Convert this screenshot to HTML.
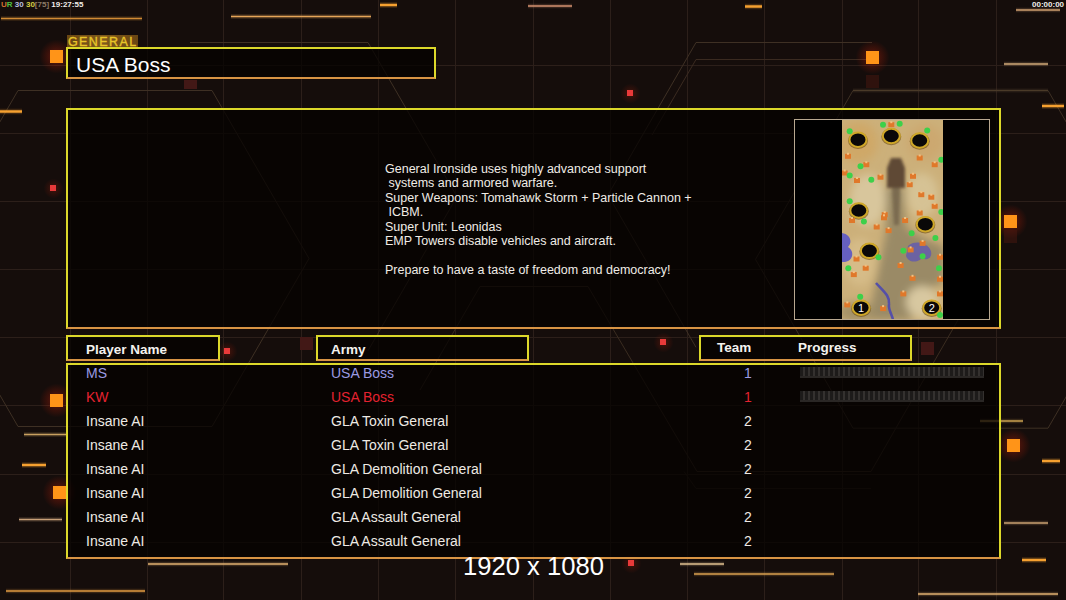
<!DOCTYPE html>
<html><head><meta charset="utf-8">
<style>
*{margin:0;padding:0;box-sizing:border-box}
html,body{width:1066px;height:600px;overflow:hidden;background:#150d0b;font-family:"Liberation Sans",sans-serif}
.abs{position:absolute}
.box{position:absolute;background:rgba(4,1,0,0.74);border:2px solid #dcd82a;border-bottom-color:#d89444}
.t{position:absolute;white-space:pre;color:#f0ece6;line-height:1}
.hd{position:absolute;white-space:pre;color:#f4f2ee;font-weight:bold;font-size:13.5px;line-height:1}
.row{position:absolute;white-space:pre;font-size:14px;line-height:1;color:#eeeae4}
.pb{width:184px;height:11px;background:linear-gradient(#0000 0 9px,#2a2725 9px),repeating-linear-gradient(90deg,#1d1b1a 0 3.5px,#34312f 3.5px 5px)}
</style></head><body>
<svg class="abs" style="left:0;top:0" width="1066" height="600"><defs><radialGradient id="gl"><stop offset="0" stop-color="#ff3010" stop-opacity="0.35"/><stop offset="1" stop-color="#ff2000" stop-opacity="0"/></radialGradient></defs><line x1="70.5" y1="0" x2="70.5" y2="600" stroke="#2c1f1a" stroke-width="1"/><line x1="147.5" y1="0" x2="147.5" y2="600" stroke="#2c1f1a" stroke-width="1"/><line x1="223.5" y1="0" x2="223.5" y2="600" stroke="#2c1f1a" stroke-width="1"/><line x1="301.5" y1="0" x2="301.5" y2="600" stroke="#2c1f1a" stroke-width="1"/><line x1="378.5" y1="0" x2="378.5" y2="600" stroke="#2c1f1a" stroke-width="1"/><line x1="455.5" y1="0" x2="455.5" y2="600" stroke="#2c1f1a" stroke-width="1"/><line x1="533.5" y1="0" x2="533.5" y2="600" stroke="#2c1f1a" stroke-width="1"/><line x1="610.5" y1="0" x2="610.5" y2="600" stroke="#2c1f1a" stroke-width="1"/><line x1="687.5" y1="0" x2="687.5" y2="600" stroke="#2c1f1a" stroke-width="1"/><line x1="764.5" y1="0" x2="764.5" y2="600" stroke="#2c1f1a" stroke-width="1"/><line x1="842.5" y1="0" x2="842.5" y2="600" stroke="#2c1f1a" stroke-width="1"/><line x1="918.5" y1="0" x2="918.5" y2="600" stroke="#2c1f1a" stroke-width="1"/><line x1="996.5" y1="0" x2="996.5" y2="600" stroke="#2c1f1a" stroke-width="1"/><line x1="0" y1="65.5" x2="1066" y2="65.5" stroke="#2c1f1a" stroke-width="1"/><line x1="0" y1="133.5" x2="1066" y2="133.5" stroke="#2c1f1a" stroke-width="1"/><line x1="0" y1="201.5" x2="1066" y2="201.5" stroke="#2c1f1a" stroke-width="1"/><line x1="0" y1="269.5" x2="1066" y2="269.5" stroke="#2c1f1a" stroke-width="1"/><line x1="0" y1="337.5" x2="1066" y2="337.5" stroke="#2c1f1a" stroke-width="1"/><line x1="0" y1="405.5" x2="1066" y2="405.5" stroke="#2c1f1a" stroke-width="1"/><line x1="0" y1="474.5" x2="1066" y2="474.5" stroke="#2c1f1a" stroke-width="1"/><line x1="0" y1="542.5" x2="1066" y2="542.5" stroke="#2c1f1a" stroke-width="1"/><polygon points="18.0,90.5 212.0,90.5 309.0,258.5 212.0,426.5 18.0,426.5 -79.0,258.5" fill="none" stroke="#3e3024" stroke-width="1"/><polyline points="190,42.5 368,42.5 457,196.6 368,350.7" fill="none" stroke="#3e3024" stroke-width="1"/><polyline points="872,42.5 696,42.5 608,194.9 696,347.3" fill="none" stroke="#3e3024" stroke-width="1"/><polygon points="853.0,90.5 1048.0,90.5 1145.5,259.4 1048.0,428.2 853.0,428.2 755.5,259.4" fill="none" stroke="#3e3024" stroke-width="1"/><polyline points="420,390 480,286.5 588,286.5 697,471.5 871,471.5 958,320" fill="none" stroke="#3a2c20" stroke-width="1"/><polyline points="684,471.5 696,488.5 871,488.5" fill="none" stroke="#2c2118" stroke-width="1"/><polyline points="866,59.5 696,59.5 652,135" fill="none" stroke="#3a2a20" stroke-width="1"/><line x1="1" y1="18.5" x2="142" y2="18.5" stroke="#d08a34" stroke-width="4.5" opacity="0.18"/><line x1="1" y1="18.5" x2="142" y2="18.5" stroke="#d08a34" stroke-width="1.5"/><line x1="231" y1="16.5" x2="371" y2="16.5" stroke="#e4a458" stroke-width="4.5" opacity="0.18"/><line x1="231" y1="16.5" x2="371" y2="16.5" stroke="#e4a458" stroke-width="1.5"/><line x1="528" y1="6" x2="572" y2="6" stroke="#d49270" stroke-width="4.5" opacity="0.18"/><line x1="528" y1="6" x2="572" y2="6" stroke="#d49270" stroke-width="1.5"/><line x1="1016" y1="10" x2="1060" y2="10" stroke="#d0a070" stroke-width="4.5" opacity="0.18"/><line x1="1016" y1="10" x2="1060" y2="10" stroke="#d0a070" stroke-width="1.5"/><line x1="1004" y1="64" x2="1048" y2="64" stroke="#d0a878" stroke-width="4.5" opacity="0.18"/><line x1="1004" y1="64" x2="1048" y2="64" stroke="#d0a878" stroke-width="1.5"/><line x1="24" y1="434.5" x2="66" y2="434.5" stroke="#c8a060" stroke-width="4.5" opacity="0.18"/><line x1="24" y1="434.5" x2="66" y2="434.5" stroke="#c8a060" stroke-width="1.5"/><line x1="19" y1="519.5" x2="62" y2="519.5" stroke="#c8a078" stroke-width="4.5" opacity="0.18"/><line x1="19" y1="519.5" x2="62" y2="519.5" stroke="#c8a078" stroke-width="1.5"/><line x1="148" y1="564" x2="288" y2="564" stroke="#e0b070" stroke-width="4.5" opacity="0.18"/><line x1="148" y1="564" x2="288" y2="564" stroke="#e0b070" stroke-width="1.5"/><line x1="6" y1="591" x2="145" y2="591" stroke="#e09a40" stroke-width="4.5" opacity="0.18"/><line x1="6" y1="591" x2="145" y2="591" stroke="#e09a40" stroke-width="1.5"/><line x1="680" y1="564" x2="724" y2="564" stroke="#e0c090" stroke-width="4.5" opacity="0.18"/><line x1="680" y1="564" x2="724" y2="564" stroke="#e0c090" stroke-width="1.5"/><line x1="694" y1="574" x2="834" y2="574" stroke="#d8a050" stroke-width="4.5" opacity="0.18"/><line x1="694" y1="574" x2="834" y2="574" stroke="#d8a050" stroke-width="1.5"/><line x1="918" y1="594" x2="1058" y2="594" stroke="#e0b070" stroke-width="4.5" opacity="0.18"/><line x1="918" y1="594" x2="1058" y2="594" stroke="#e0b070" stroke-width="1.5"/><line x1="980" y1="421" x2="1023" y2="421" stroke="#c8a050" stroke-width="4.5" opacity="0.18"/><line x1="980" y1="421" x2="1023" y2="421" stroke="#c8a050" stroke-width="1.5"/><line x1="1004" y1="523" x2="1048" y2="523" stroke="#c8a070" stroke-width="4.5" opacity="0.18"/><line x1="1004" y1="523" x2="1048" y2="523" stroke="#c8a070" stroke-width="1.5"/><line x1="853" y1="90.5" x2="1048" y2="90.5" stroke="#4a3a28" stroke-width="4.5" opacity="0.18"/><line x1="853" y1="90.5" x2="1048" y2="90.5" stroke="#4a3a28" stroke-width="1.5"/><line x1="380" y1="5" x2="397" y2="5" stroke="#f5a030" stroke-width="5.5" opacity="0.18"/><line x1="380" y1="5" x2="397" y2="5" stroke="#f5a030" stroke-width="2.5"/><line x1="745" y1="6.5" x2="762" y2="6.5" stroke="#f5a030" stroke-width="5.5" opacity="0.18"/><line x1="745" y1="6.5" x2="762" y2="6.5" stroke="#f5a030" stroke-width="2.5"/><line x1="1042" y1="106" x2="1064" y2="106" stroke="#f5a030" stroke-width="5.5" opacity="0.18"/><line x1="1042" y1="106" x2="1064" y2="106" stroke="#f5a030" stroke-width="2.5"/><line x1="0" y1="111.5" x2="22" y2="111.5" stroke="#f5a030" stroke-width="5.5" opacity="0.18"/><line x1="0" y1="111.5" x2="22" y2="111.5" stroke="#f5a030" stroke-width="2.5"/><line x1="22" y1="465" x2="46" y2="465" stroke="#f5a030" stroke-width="5.5" opacity="0.18"/><line x1="22" y1="465" x2="46" y2="465" stroke="#f5a030" stroke-width="2.5"/><line x1="1022" y1="560" x2="1046" y2="560" stroke="#f5a030" stroke-width="5.5" opacity="0.18"/><line x1="1022" y1="560" x2="1046" y2="560" stroke="#f5a030" stroke-width="2.5"/><line x1="1042" y1="461" x2="1060" y2="461" stroke="#f5a030" stroke-width="5.5" opacity="0.18"/><line x1="1042" y1="461" x2="1060" y2="461" stroke="#f5a030" stroke-width="2.5"/><circle cx="56.5" cy="56.5" r="17" fill="url(#gl)"/><circle cx="872.5" cy="57.5" r="17" fill="url(#gl)"/><circle cx="1010.5" cy="221.5" r="17" fill="url(#gl)"/><circle cx="56.5" cy="400.5" r="17" fill="url(#gl)"/><circle cx="59.5" cy="492.5" r="17" fill="url(#gl)"/><circle cx="1013.5" cy="445.5" r="17" fill="url(#gl)"/><rect x="866" y="75" width="13" height="13" fill="#4a1810" opacity="0.5"/><rect x="1004" y="230" width="13" height="13" fill="#4a1810" opacity="0.5"/><rect x="184" y="80" width="13" height="9" fill="#421816"/><rect x="300" y="337" width="13" height="13" fill="#421816"/><rect x="921" y="342" width="13" height="13" fill="#421816"/><rect x="50" y="50" width="13" height="13" fill="#ff9418"/><rect x="866" y="51" width="13" height="13" fill="#ff9418"/><rect x="1004" y="215" width="13" height="13" fill="#ff9418"/><rect x="50" y="394" width="13" height="13" fill="#ff9418"/><rect x="53" y="486" width="13" height="13" fill="#ff9418"/><rect x="1007" y="439" width="13" height="13" fill="#ff9418"/><circle cx="630.5" cy="93.5" r="10" fill="url(#gl)" opacity="0.6"/><rect x="627" y="90" width="6" height="6" fill="#e83a3a"/><circle cx="53.5" cy="188.5" r="10" fill="url(#gl)" opacity="0.6"/><rect x="50" y="185" width="6" height="6" fill="#e83a3a"/><circle cx="227.5" cy="351.5" r="10" fill="url(#gl)" opacity="0.6"/><rect x="224" y="348" width="6" height="6" fill="#e83a3a"/><circle cx="663.5" cy="342.5" r="10" fill="url(#gl)" opacity="0.6"/><rect x="660" y="339" width="6" height="6" fill="#e83a3a"/><circle cx="631.5" cy="563.5" r="10" fill="url(#gl)" opacity="0.6"/><rect x="628" y="560" width="6" height="6" fill="#e83a3a"/></svg>

<!-- hud -->
<div class="t" style="left:1px;top:0px;font-size:8px;font-weight:bold;line-height:9px"><span style="color:#d07030">U</span><span style="color:#50c040">R</span> <span style="color:#b8c0e0">30</span> <span style="color:#d8d040">30</span><span style="color:#8a7a66">[75]</span> <span style="color:#f0ece8">19:27:55</span></div>
<div class="t" style="left:1032px;top:0px;font-size:8px;font-weight:bold;line-height:9px;color:#f0ece8">00:00:00</div>
<!-- GENERAL label -->
<div class="abs" style="left:67px;top:35px;width:71px;height:13px;background:linear-gradient(90deg,#6a4612,#7e5a1c 50%,#6a4612)"></div>
<div class="t" style="left:68px;top:35.5px;font-size:12.5px;color:#e8c428;letter-spacing:1.4px;-webkit-text-stroke:0.35px #e8c428">GENERAL</div>

<!-- title box -->
<div class="box" style="left:66px;top:47px;width:370px;height:32px"></div>
<div class="t" style="left:76px;top:53.5px;font-size:21px;color:#fff">USA Boss</div>

<!-- main box -->
<div class="box" style="left:66px;top:108px;width:935px;height:221px"></div>
<div class="t" style="left:385px;top:162px;font-size:12.5px;line-height:14.43px">General Ironside uses highly advanced support
 systems and armored warfare.
Super Weapons: Tomahawk Storm + Particle Cannon +
 ICBM.
Super Unit: Leonidas
EMP Towers disable vehicles and aircraft.

Prepare to have a taste of freedom and democracy!</div>

<!-- map -->
<svg class="abs" style="left:794px;top:119px" width="196" height="201" viewBox="794 119 196 201"><defs><clipPath id="mc"><rect x="842" y="120" width="101" height="199"/></clipPath><filter id="bl" x="-50%" y="-50%" width="200%" height="200%"><feGaussianBlur stdDeviation="4"/></filter><filter id="bl2" x="-50%" y="-50%" width="200%" height="200%"><feGaussianBlur stdDeviation="1.6"/></filter><filter id="bl1" x="-50%" y="-50%" width="200%" height="200%"><feGaussianBlur stdDeviation="0.6"/></filter></defs><rect x="794.5" y="119.5" width="195" height="200" fill="#000" stroke="#b8a890" stroke-width="1"/><g clip-path="url(#mc)"><rect x="842" y="120" width="101" height="199" fill="#ccb07a"/><g filter="url(#bl)"><ellipse cx="858" cy="142" rx="20" ry="20" fill="#cfa868"/><ellipse cx="925" cy="142" rx="18" ry="18" fill="#cca870"/><ellipse cx="868" cy="200" rx="18" ry="26" fill="#d8c69c"/><ellipse cx="922" cy="195" rx="16" ry="22" fill="#d6c294"/><ellipse cx="860" cy="262" rx="16" ry="24" fill="#d6bc88"/><path d="M886,186 L904,186 L906,228 L928,240 L944,246 L944,282 L922,292 L912,320 L868,320 L876,282 L886,232 Z" fill="#9a8a66"/><ellipse cx="922" cy="302" rx="16" ry="16" fill="#d8c8a0"/><ellipse cx="856" cy="312" rx="18" ry="10" fill="#a49268"/></g><g filter="url(#bl2)"><path d="M891,158 L901,158 L905,168 L905,188 L887,188 L887,168 Z" fill="#5e4a34"/><path d="M892,188 L900,188 L899,225 L894,225 Z" fill="#7a6a50"/></g><g filter="url(#bl1)"><path d="M842,233 C850,234 853,242 848,247 C855,251 853,261 845,262 L842,262 Z" fill="#6660c0"/><path d="M908,246 C914,240 926,242 930,249 C934,256 928,262 922,258 C916,264 908,262 906,256 Z" fill="#6058b0" opacity="0.8"/><path d="M876,283 C884,292 890,296 889,304 C888,310 892,314 893,320" fill="none" stroke="#5450a8" stroke-width="2.6"/></g><ellipse cx="858" cy="140.5" rx="10" ry="8.5" fill="#6a4a10" opacity="0.6"/><ellipse cx="858" cy="139.7" rx="8.5" ry="7.2" fill="#0a0808" stroke="#d0a828" stroke-width="2"/><ellipse cx="891.3" cy="136.8" rx="10" ry="8.5" fill="#6a4a10" opacity="0.6"/><ellipse cx="891.3" cy="136" rx="8.5" ry="7.2" fill="#0a0808" stroke="#d0a828" stroke-width="2"/><ellipse cx="919.7" cy="141.3" rx="10" ry="8.5" fill="#6a4a10" opacity="0.6"/><ellipse cx="919.7" cy="140.5" rx="8.5" ry="7.2" fill="#0a0808" stroke="#d0a828" stroke-width="2"/><ellipse cx="858.8" cy="211.3" rx="10" ry="8.5" fill="#6a4a10" opacity="0.6"/><ellipse cx="858.8" cy="210.5" rx="8.5" ry="7.2" fill="#0a0808" stroke="#d0a828" stroke-width="2"/><ellipse cx="925.3" cy="225.0" rx="10" ry="8.5" fill="#6a4a10" opacity="0.6"/><ellipse cx="925.3" cy="224.2" rx="8.5" ry="7.2" fill="#0a0808" stroke="#d0a828" stroke-width="2"/><ellipse cx="869.4" cy="251.60000000000002" rx="10" ry="8.5" fill="#6a4a10" opacity="0.6"/><ellipse cx="869.4" cy="250.8" rx="8.5" ry="7.2" fill="#0a0808" stroke="#d0a828" stroke-width="2"/><ellipse cx="861.1" cy="308.5" rx="10" ry="8.5" fill="#6a4a10" opacity="0.6"/><ellipse cx="861.1" cy="307.7" rx="8.5" ry="7.2" fill="#0a0808" stroke="#d0a828" stroke-width="2"/><ellipse cx="931.7" cy="308.5" rx="10" ry="8.5" fill="#6a4a10" opacity="0.6"/><ellipse cx="931.7" cy="307.7" rx="8.5" ry="7.2" fill="#0a0808" stroke="#d0a828" stroke-width="2"/><rect x="888.3" y="122.2" width="6" height="5" fill="#e0782c" filter="url(#bl1)"/><rect x="890.3" y="121.2" width="2" height="2" fill="#f4c080"/><rect x="845" y="153.8" width="6" height="5" fill="#e0782c" filter="url(#bl1)"/><rect x="847" y="152.8" width="2" height="2" fill="#f4c080"/><rect x="863.3" y="162.2" width="6" height="5" fill="#e0782c" filter="url(#bl1)"/><rect x="865.3" y="161.2" width="2" height="2" fill="#f4c080"/><rect x="841.7" y="170.5" width="6" height="5" fill="#e0782c" filter="url(#bl1)"/><rect x="843.7" y="169.5" width="2" height="2" fill="#f4c080"/><rect x="854" y="178.0" width="6" height="5" fill="#e0782c" filter="url(#bl1)"/><rect x="856" y="177.0" width="2" height="2" fill="#f4c080"/><rect x="877.5" y="174.7" width="6" height="5" fill="#e0782c" filter="url(#bl1)"/><rect x="879.5" y="173.7" width="2" height="2" fill="#f4c080"/><rect x="916.7" y="155.5" width="6" height="5" fill="#e0782c" filter="url(#bl1)"/><rect x="918.7" y="154.5" width="2" height="2" fill="#f4c080"/><rect x="931.7" y="162.2" width="6" height="5" fill="#e0782c" filter="url(#bl1)"/><rect x="933.7" y="161.2" width="2" height="2" fill="#f4c080"/><rect x="910" y="173.8" width="6" height="5" fill="#e0782c" filter="url(#bl1)"/><rect x="912" y="172.8" width="2" height="2" fill="#f4c080"/><rect x="906.7" y="182.2" width="6" height="5" fill="#e0782c" filter="url(#bl1)"/><rect x="908.7" y="181.2" width="2" height="2" fill="#f4c080"/><rect x="918.3" y="192.2" width="6" height="5" fill="#e0782c" filter="url(#bl1)"/><rect x="920.3" y="191.2" width="2" height="2" fill="#f4c080"/><rect x="928.3" y="194.7" width="6" height="5" fill="#e0782c" filter="url(#bl1)"/><rect x="930.3" y="193.7" width="2" height="2" fill="#f4c080"/><rect x="931.7" y="203.8" width="6" height="5" fill="#e0782c" filter="url(#bl1)"/><rect x="933.7" y="202.8" width="2" height="2" fill="#f4c080"/><rect x="916.7" y="210.5" width="6" height="5" fill="#e0782c" filter="url(#bl1)"/><rect x="918.7" y="209.5" width="2" height="2" fill="#f4c080"/><rect x="881.7" y="212.2" width="6" height="5" fill="#e0782c" filter="url(#bl1)"/><rect x="883.7" y="211.2" width="2" height="2" fill="#f4c080"/><rect x="849" y="218.0" width="6" height="5" fill="#e0782c" filter="url(#bl1)"/><rect x="851" y="217.0" width="2" height="2" fill="#f4c080"/><rect x="881" y="215.3" width="6" height="5" fill="#e0782c" filter="url(#bl1)"/><rect x="883" y="214.3" width="2" height="2" fill="#f4c080"/><rect x="902.1" y="218.0" width="6" height="5" fill="#e0782c" filter="url(#bl1)"/><rect x="904.1" y="217.0" width="2" height="2" fill="#f4c080"/><rect x="873.7" y="224.5" width="6" height="5" fill="#e0782c" filter="url(#bl1)"/><rect x="875.7" y="223.5" width="2" height="2" fill="#f4c080"/><rect x="885.6" y="228.1" width="6" height="5" fill="#e0782c" filter="url(#bl1)"/><rect x="887.6" y="227.1" width="2" height="2" fill="#f4c080"/><rect x="907.6" y="247.4" width="6" height="5" fill="#e0782c" filter="url(#bl1)"/><rect x="909.6" y="246.4" width="2" height="2" fill="#f4c080"/><rect x="937" y="254.7" width="6" height="5" fill="#e0782c" filter="url(#bl1)"/><rect x="939" y="253.7" width="2" height="2" fill="#f4c080"/><rect x="853.5" y="256.5" width="6" height="5" fill="#e0782c" filter="url(#bl1)"/><rect x="855.5" y="255.5" width="2" height="2" fill="#f4c080"/><rect x="862.7" y="265.7" width="6" height="5" fill="#e0782c" filter="url(#bl1)"/><rect x="864.7" y="264.7" width="2" height="2" fill="#f4c080"/><rect x="897.6" y="263.0" width="6" height="5" fill="#e0782c" filter="url(#bl1)"/><rect x="899.6" y="262.0" width="2" height="2" fill="#f4c080"/><rect x="850.8" y="272.1" width="6" height="5" fill="#e0782c" filter="url(#bl1)"/><rect x="852.8" y="271.1" width="2" height="2" fill="#f4c080"/><rect x="909.5" y="275.8" width="6" height="5" fill="#e0782c" filter="url(#bl1)"/><rect x="911.5" y="274.8" width="2" height="2" fill="#f4c080"/><rect x="937" y="276.7" width="6" height="5" fill="#e0782c" filter="url(#bl1)"/><rect x="939" y="275.7" width="2" height="2" fill="#f4c080"/><rect x="900.3" y="291.4" width="6" height="5" fill="#e0782c" filter="url(#bl1)"/><rect x="902.3" y="290.4" width="2" height="2" fill="#f4c080"/><rect x="937" y="291.4" width="6" height="5" fill="#e0782c" filter="url(#bl1)"/><rect x="939" y="290.4" width="2" height="2" fill="#f4c080"/><rect x="844.3" y="302.4" width="6" height="5" fill="#e0782c" filter="url(#bl1)"/><rect x="846.3" y="301.4" width="2" height="2" fill="#f4c080"/><rect x="880.1" y="306.1" width="6" height="5" fill="#e0782c" filter="url(#bl1)"/><rect x="882.1" y="305.1" width="2" height="2" fill="#f4c080"/><rect x="919.6" y="240.9" width="6" height="5" fill="#e0782c" filter="url(#bl1)"/><rect x="921.6" y="239.9" width="2" height="2" fill="#f4c080"/><circle cx="883" cy="124.7" r="3" fill="#3ed04a" filter="url(#bl1)"/><circle cx="899.7" cy="123.8" r="3" fill="#3ed04a" filter="url(#bl1)"/><circle cx="849.7" cy="131.3" r="3" fill="#3ed04a" filter="url(#bl1)"/><circle cx="927.2" cy="130.5" r="3" fill="#3ed04a" filter="url(#bl1)"/><circle cx="860.5" cy="166.3" r="3" fill="#3ed04a" filter="url(#bl1)"/><circle cx="871.3" cy="179.7" r="3" fill="#3ed04a" filter="url(#bl1)"/><circle cx="849.7" cy="175.5" r="3" fill="#3ed04a" filter="url(#bl1)"/><circle cx="941.3" cy="159.7" r="3" fill="#3ed04a" filter="url(#bl1)"/><circle cx="849.7" cy="201.3" r="3" fill="#3ed04a" filter="url(#bl1)"/><circle cx="941.3" cy="212" r="3" fill="#3ed04a" filter="url(#bl1)"/><circle cx="911.6" cy="233.3" r="3" fill="#3ed04a" filter="url(#bl1)"/><circle cx="935.4" cy="238" r="3" fill="#3ed04a" filter="url(#bl1)"/><circle cx="903.3" cy="250.8" r="3" fill="#3ed04a" filter="url(#bl1)"/><circle cx="922.6" cy="256.3" r="3" fill="#3ed04a" filter="url(#bl1)"/><circle cx="848.3" cy="268.2" r="3" fill="#3ed04a" filter="url(#bl1)"/><circle cx="939" cy="268.2" r="3" fill="#3ed04a" filter="url(#bl1)"/><circle cx="860.2" cy="296.7" r="3" fill="#3ed04a" filter="url(#bl1)"/><circle cx="863.9" cy="221.4" r="3" fill="#3ed04a" filter="url(#bl1)"/><circle cx="878.5" cy="257.2" r="3" fill="#3ed04a" filter="url(#bl1)"/><circle cx="940" cy="315" r="3" fill="#3ed04a" filter="url(#bl1)"/><text x="861.1" y="311.8" font-family="Liberation Sans" font-size="11" fill="#fff" text-anchor="middle">1</text><text x="931.7" y="311.8" font-family="Liberation Sans" font-size="11" fill="#fff" text-anchor="middle">2</text></g></svg>
<!-- header boxes -->
<div class="box" style="left:66px;top:335px;width:154px;height:26px"></div>
<div class="hd" style="left:86px;top:343px">Player Name</div>
<div class="box" style="left:316px;top:335px;width:213px;height:26px"></div>
<div class="hd" style="left:331px;top:343px">Army</div>
<div class="box" style="left:699px;top:335px;width:213px;height:26px"></div>
<div class="hd" style="left:717px;top:340.5px">Team</div>
<div class="hd" style="left:798px;top:340.5px">Progress</div>

<!-- list box -->
<div class="box" style="left:66px;top:363px;width:935px;height:196px"></div>
<!-- rows -->
<div class="row" style="left:86px;top:365.5px;color:#9a9ae2">MS</div>
<div class="row" style="left:331px;top:365.5px;color:#9a9ae2">USA Boss</div>
<div class="row" style="left:744px;top:365.5px;color:#9a9ae2">1</div>
<div class="row" style="left:86px;top:389.5px;color:#e42230">KW</div>
<div class="row" style="left:331px;top:389.5px;color:#e42230">USA Boss</div>
<div class="row" style="left:744px;top:389.5px;color:#e42230">1</div>
<div class="row" style="left:86px;top:413.5px;color:#eeeae4">Insane AI</div>
<div class="row" style="left:331px;top:413.5px;color:#eeeae4">GLA Toxin General</div>
<div class="row" style="left:744px;top:413.5px;color:#eeeae4">2</div>
<div class="row" style="left:86px;top:437.5px;color:#eeeae4">Insane AI</div>
<div class="row" style="left:331px;top:437.5px;color:#eeeae4">GLA Toxin General</div>
<div class="row" style="left:744px;top:437.5px;color:#eeeae4">2</div>
<div class="row" style="left:86px;top:461.5px;color:#eeeae4">Insane AI</div>
<div class="row" style="left:331px;top:461.5px;color:#eeeae4">GLA Demolition General</div>
<div class="row" style="left:744px;top:461.5px;color:#eeeae4">2</div>
<div class="row" style="left:86px;top:485.5px;color:#eeeae4">Insane AI</div>
<div class="row" style="left:331px;top:485.5px;color:#eeeae4">GLA Demolition General</div>
<div class="row" style="left:744px;top:485.5px;color:#eeeae4">2</div>
<div class="row" style="left:86px;top:509.5px;color:#eeeae4">Insane AI</div>
<div class="row" style="left:331px;top:509.5px;color:#eeeae4">GLA Assault General</div>
<div class="row" style="left:744px;top:509.5px;color:#eeeae4">2</div>
<div class="row" style="left:86px;top:533.5px;color:#eeeae4">Insane AI</div>
<div class="row" style="left:331px;top:533.5px;color:#eeeae4">GLA Assault General</div>
<div class="row" style="left:744px;top:533.5px;color:#eeeae4">2</div>
<div class="abs pb" style="left:800px;top:367px"></div>
<div class="abs pb" style="left:800px;top:391px"></div>
<div class="t" style="left:463px;top:553.5px;font-size:25.6px;color:#fff">1920 x 1080</div>
</body></html>
